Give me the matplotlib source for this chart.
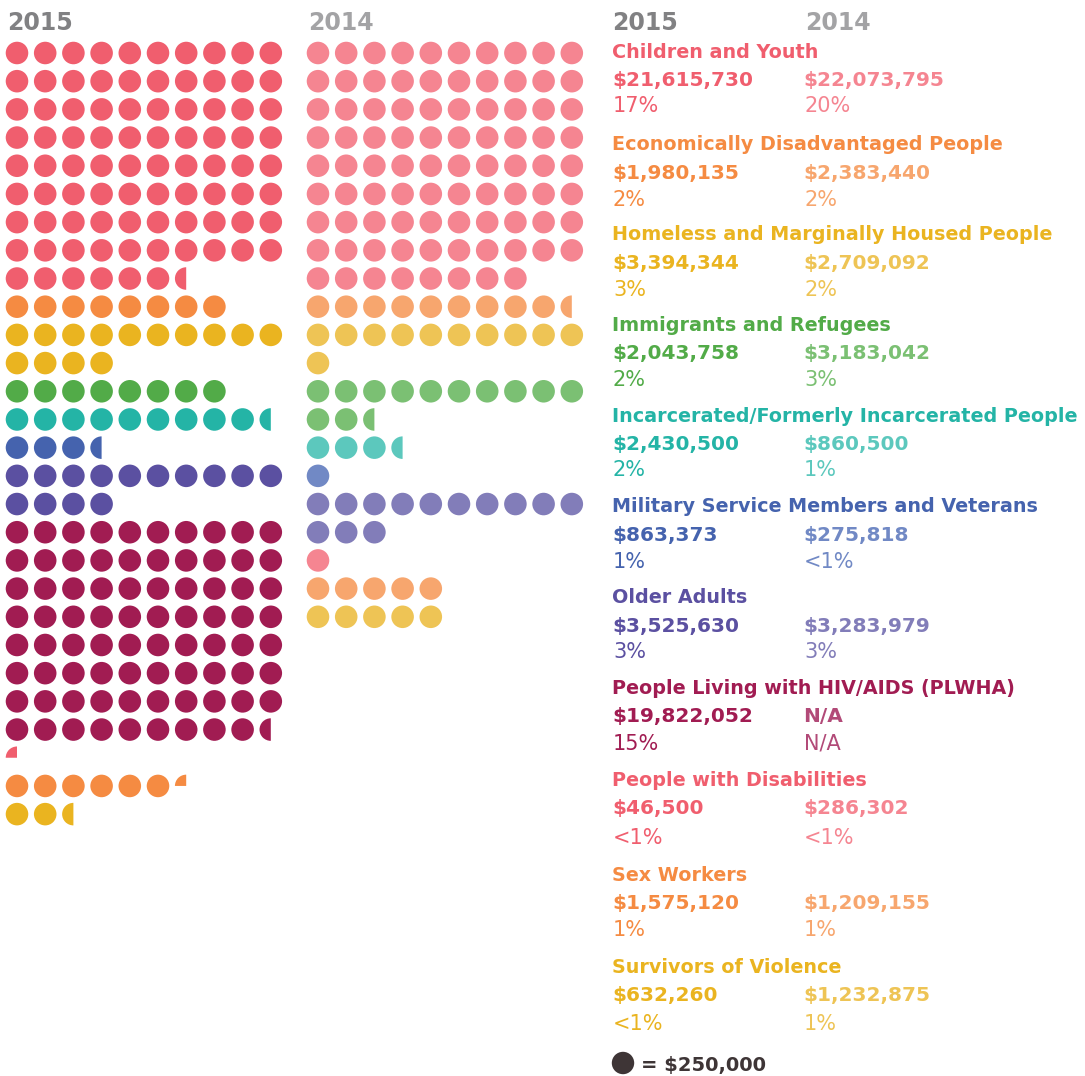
import math
import matplotlib
matplotlib.use("Agg")
import matplotlib.pyplot as plt
from matplotlib.patches import Circle, Wedge

# ---------------- data ----------------
categories = [
    "Children and Youth",
    "Economically Disadvantaged People",
    "Homeless and Marginally Housed People",
    "Immigrants and Refugees",
    "Incarcerated/Formerly Incarcerated People",
    "Military Service Members and Veterans",
    "Older Adults",
    "People Living with HIV/AIDS (PLWHA)",
    "People with Disabilities",
    "Sex Workers",
    "Survivors of Violence",
]
amount_2015 = ["$21,615,730", "$1,980,135", "$3,394,344", "$2,043,758", "$2,430,500",
               "$863,373", "$3,525,630", "$19,822,052", "$46,500", "$1,575,120", "$632,260"]
amount_2014 = ["$22,073,795", "$2,383,440", "$2,709,092", "$3,183,042", "$860,500",
               "$275,818", "$3,283,979", "N/A", "$286,302", "$1,209,155", "$1,232,875"]
pct_2015 = ["17%", "2%", "3%", "2%", "2%", "1%", "3%", "15%", "<1%", "1%", "<1%"]
pct_2014 = ["20%", "2%", "2%", "3%", "1%", "<1%", "3%", "N/A", "<1%", "1%", "1%"]
# dots as drawn (each dot = $250,000; .5 = half dot, .25 = quarter dot)
dots_2015 = [86.5, 8, 14, 8, 9.5, 3.5, 14, 79.5, 0.25, 6.25, 2.5]
dots_2014 = [88, 9.5, 11, 12.5, 3.5, 1, 13, 0, 1, 5, 5]
years = ["2015", "2014"]
unit_label = "= $250,000"

colors_2015 = ["#F05E6E", "#F58B42", "#EAB420", "#52AB48", "#24B4A6", "#4563AE",
               "#5B50A1", "#A11C52", "#F05E6E", "#F58B42", "#EAB420"]
colors_2014 = ["#F58591", "#F7A66E", "#EEC455", "#7BC073", "#5CC8BD", "#7189C5",
               "#827DB9", "#B24A78", "#F58591", "#F7A66E", "#EEC455"]

# ---------------- layout ----------------
W, H = 1085, 1076
fig = plt.figure(figsize=(W / 100, H / 100), dpi=100)
fig.patch.set_facecolor("white")

NCOLS = 10
NROWS = 28
STEP_X = 28.2
STEP_Y = 28.19
R = 0.4


def make_grid_axes(first_cx, first_cy):
    left = first_cx - STEP_X / 2
    top = first_cy - STEP_Y / 2
    width = NCOLS * STEP_X
    height = NROWS * STEP_Y
    ax = fig.add_axes([left / W, 1 - (top + height) / H, width / W, height / H])
    ax.set_xlim(-0.5, NCOLS - 0.5)
    ax.set_ylim(-(NROWS - 0.5), 0.5)
    ax.axis("off")
    return ax


def draw_grid(ax, counts, colors):
    row = 0
    for n, c in zip(counts, colors):
        full = int(math.floor(n))
        frac = n - full
        total = full + (1 if frac > 1e-9 else 0)
        for i in range(total):
            x = i % NCOLS
            y = -(row + i // NCOLS)
            if i < full:
                ax.add_patch(Circle((x, y), R, facecolor=c, edgecolor="none"))
            elif frac >= 0.5:
                ax.add_patch(Wedge((x, y), R, 90, 270, facecolor=c, edgecolor="none"))
            else:
                ax.add_patch(Wedge((x, y), R, 90, 180, facecolor=c, edgecolor="none"))
        if n > 0:
            row += math.ceil(n / NCOLS)


ax15 = make_grid_axes(17, 53)
draw_grid(ax15, dots_2015, colors_2015)
ax14 = make_grid_axes(318, 53)
draw_grid(ax14, dots_2014, colors_2014)

# text overlay
at = fig.add_axes([0, 0, 1, 1])
at.set_xlim(0, W)
at.set_ylim(H, 0)
at.axis("off")

BOLD = dict(family="DejaVu Sans", fontweight="bold")
REG = dict(family="DejaVu Sans", fontweight="normal")

gray15, gray14 = "#818183", "#A3A3A5"
at.text(7, 30, years[0], fontsize=17, color=gray15, va="baseline", ha="left", **BOLD)
at.text(308, 30, years[1], fontsize=17, color=gray14, va="baseline", ha="left", **BOLD)
at.text(612, 30, years[0], fontsize=17, color=gray15, va="baseline", ha="left", **BOLD)
at.text(805, 30, years[1], fontsize=17, color=gray14, va="baseline", ha="left", **BOLD)

name_y = [51, 143, 233, 324, 415, 505, 596, 687, 779, 874, 966]
val_y = [78, 171, 261, 351, 442, 533, 624, 714, 806, 901, 993]
pct_y = [105, 199, 288, 379, 469, 560, 651, 742, 836, 929, 1022]

X15, X14 = 612, 803
for i, cat in enumerate(categories):
    c15, c14 = colors_2015[i], colors_2014[i]
    at.text(X15, name_y[i] + 7, cat, fontsize=13.8, color=c15, va="baseline", **BOLD)
    at.text(X15, val_y[i] + 8, amount_2015[i], fontsize=14.5, color=c15, va="baseline", **BOLD)
    at.text(X14, val_y[i] + 8, amount_2014[i], fontsize=14.5, color=c14, va="baseline", **BOLD)
    at.text(X15 + 1, pct_y[i] + 7.5, pct_2015[i], fontsize=15, color=c15, va="baseline", **REG)
    at.text(X14 + 1, pct_y[i] + 7.5, pct_2014[i], fontsize=15, color=c14, va="baseline", **REG)

# legend
at.add_patch(Circle((623, 1063), 11.2, facecolor="#3E3536", edgecolor="none"))
at.text(641, 1063 + 7.5, unit_label, fontsize=14, color="#3E3536", va="baseline", **BOLD)

fig.savefig("out.png", dpi=100, facecolor="white")
